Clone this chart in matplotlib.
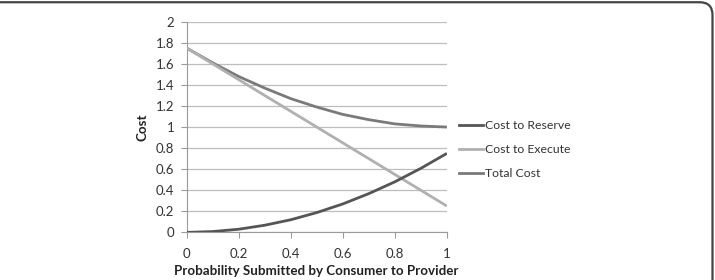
import matplotlib
matplotlib.use("Agg")
import matplotlib.pyplot as plt
from matplotlib.patches import FancyBboxPatch
from matplotlib.lines import Line2D

plt.rcParams['font.family'] = ['Lato', 'DejaVu Sans']

prob = [0.0, 0.1, 0.2, 0.3, 0.4, 0.5, 0.6, 0.7, 0.8, 0.9, 1.0]
cost_reserve = [0.0, 0.008, 0.03, 0.068, 0.12, 0.188, 0.27, 0.368, 0.48, 0.608, 0.75]
cost_execute = [1.75, 1.6, 1.45, 1.3, 1.15, 1.0, 0.85, 0.7, 0.55, 0.4, 0.25]
total_cost = [1.75, 1.61, 1.48, 1.37, 1.27, 1.19, 1.12, 1.07, 1.03, 1.01, 1.0]
series_names = ["Cost to Reserve", "Cost to Execute", "Total Cost"]
x_ticks = [0, 0.2, 0.4, 0.6, 0.8, 1]
x_tick_labels = ["0", "0.2", "0.4", "0.6", "0.8", "1"]
y_ticks = [0, 0.2, 0.4, 0.6, 0.8, 1, 1.2, 1.4, 1.6, 1.8, 2]
y_tick_labels = ["0", "0.2", "0.4", "0.6", "0.8", "1", "1.2", "1.4", "1.6", "1.8", "2"]

fig = plt.figure(figsize=(7.15, 2.8), dpi=100)
fig.patch.set_facecolor('white')

# frame: only the top edge and right edge are visible (rounded top-right corner)
border = FancyBboxPatch((-0.1, -0.3), 1.0965, 1.292, boxstyle="round,pad=0,rounding_size=0.018",
                        transform=fig.transFigure, fill=False, edgecolor='#444444', linewidth=1.6,
                        mutation_aspect=715/280, clip_on=False)
fig.patches.append(border)

ax = fig.add_axes([0.261, 0.170, 0.364, 0.7525])
colors = ['#555555', '#b0b0b0', '#7a7a7a']
ax.plot(prob, total_cost, color=colors[2], lw=2.0, solid_capstyle='butt', zorder=3)
ax.plot(prob, cost_execute, color=colors[1], lw=2.0, solid_capstyle='butt', zorder=3)
ax.plot(prob, cost_reserve, color=colors[0], lw=2.0, solid_capstyle='butt', zorder=4)

ax.set_xlim(0, 1)
ax.set_ylim(0, 2)
ax.set_xticks(x_ticks)
ax.set_xticklabels(x_tick_labels)
ax.set_yticks(y_ticks)
ax.set_yticklabels(y_tick_labels)
ax.yaxis.grid(True, color='#bdbdbd', lw=0.9)
ax.set_axisbelow(True)
for s in ['top', 'right']:
    ax.spines[s].set_visible(False)
ax.spines['left'].set_color('#9a9a9a')
ax.spines['bottom'].set_color('#9a9a9a')
ax.tick_params(axis='y', length=4, color='#9a9a9a', labelsize=9.5, labelcolor='#333333', pad=5)
ax.tick_params(axis='x', length=4, color='#9a9a9a', labelsize=9.5, labelcolor='#333333', pad=7)
ax.set_xlabel("Probability Submitted by Consumer to Provider", fontsize=9.6, fontweight='bold',
              color='#222222', labelpad=4)
ax.set_ylabel("Cost", fontsize=9.6, fontweight='bold', color='#222222', labelpad=5)

handles = [Line2D([0], [0], color=c, lw=2.0) for c in colors]
leg = fig.legend(handles, series_names, loc='upper left', bbox_to_anchor=(0.626, 0.61),
                 frameon=False, fontsize=8.8, handlelength=2.0, handletextpad=0.15,
                 labelspacing=1.05, labelcolor='#333333')

fig.savefig("out.png", dpi=100)
